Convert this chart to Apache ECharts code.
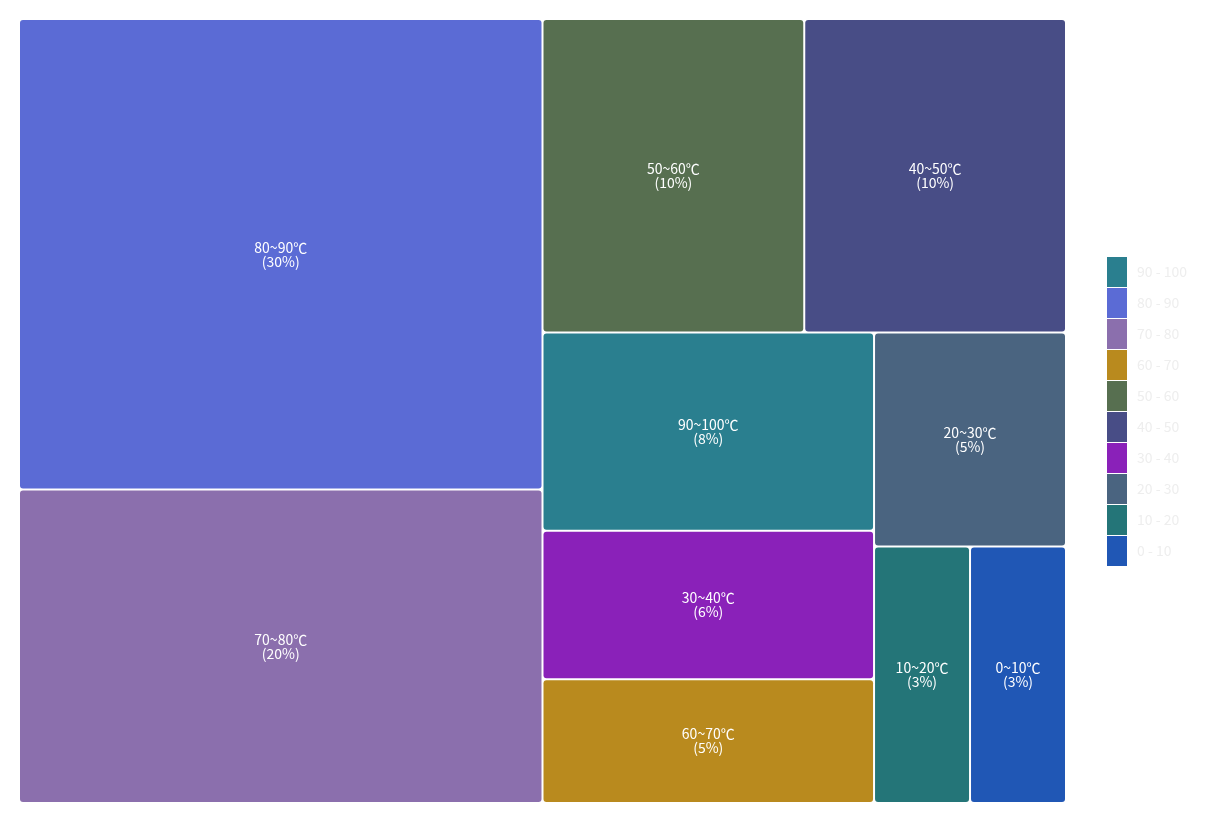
<!DOCTYPE html>
<html>
<head>
<meta charset="utf-8">
<script src="https://cdn.jsdelivr.net/npm/echarts@6/dist/echarts.min.js"></script>
<style>
  html, body { margin: 0; padding: 0; background: #fff; }
  #main { width: 1205px; height: 823px; }
</style>
</head>
<body>
<div id="main"></div>
<script>
  // 温度区间 / 占比
  var names = ['80~90℃', '70~80℃', '40~50℃', '50~60℃', '90~100℃', '30~40℃', '20~30℃', '60~70℃', '0~10℃', '10~20℃'];
  var percents = [30, 20, 10, 10, 8, 6, 5, 5, 3, 3];
  var temps = [85, 75, 45, 55, 95, 35, 25, 65, 5, 15];

  var pieceMins = [0, 10, 20, 30, 40, 50, 60, 70, 80, 90];
  var pieceColors = ['#2057b5', '#247578', '#4a6480', '#8a21b9', '#484d86', '#576f50', '#b98a1e', '#8b6fad', '#5b6bd5', '#2a7f8f'];

  var pieces = [];
  for (var i = 0; i < pieceMins.length; i++) {
    pieces.push({ min: pieceMins[i], max: pieceMins[i] + 10, color: pieceColors[i] });
  }

  var seriesData = [];
  for (var j = 0; j < names.length; j++) {
    var idx = Math.min(Math.floor(temps[j] / 10), 9);
    seriesData.push({
      name: names[j],
      value: [percents[j], temps[j]],
      itemStyle: { color: pieceColors[idx] }
    });
  }

  var chart = echarts.init(document.getElementById('main'));
  chart.setOption({
    textStyle: { fontFamily: '"Noto Sans CJK SC", "Noto Sans", sans-serif' },
    visualMap: {
      type: 'piecewise',
      dimension: 1,
      seriesIndex: 0,
      left: 1092,
      top: 242,
      orient: 'vertical',
      align: 'left',
      itemWidth: 20,
      itemHeight: 30,
      itemGap: 1,
      itemSymbol: 'rect',
      pieces: pieces,
      textStyle: { color: '#eeeeee', fontSize: 14 }
    },
    series: [{
      type: 'treemap',
      left: 20,
      top: 20,
      width: 1045,
      height: 782,
      roam: false,
      nodeClick: false,
      breadcrumb: { show: false },
      label: {
        show: true,
        position: 'inside',
        color: '#fff',
        fontSize: 14,
        lineHeight: 14,
        align: 'center',
        verticalAlign: 'middle',
        formatter: function (p) {
          return p.name + '\n(' + p.value[0] + '%)';
        }
      },
      levels: [{
        itemStyle: { borderWidth: 0, gapWidth: 2 }
      }, {
        itemStyle: { borderWidth: 0, borderRadius: 3 }
      }],
      data: seriesData
    }]
  });
</script>
</body>
</html>
